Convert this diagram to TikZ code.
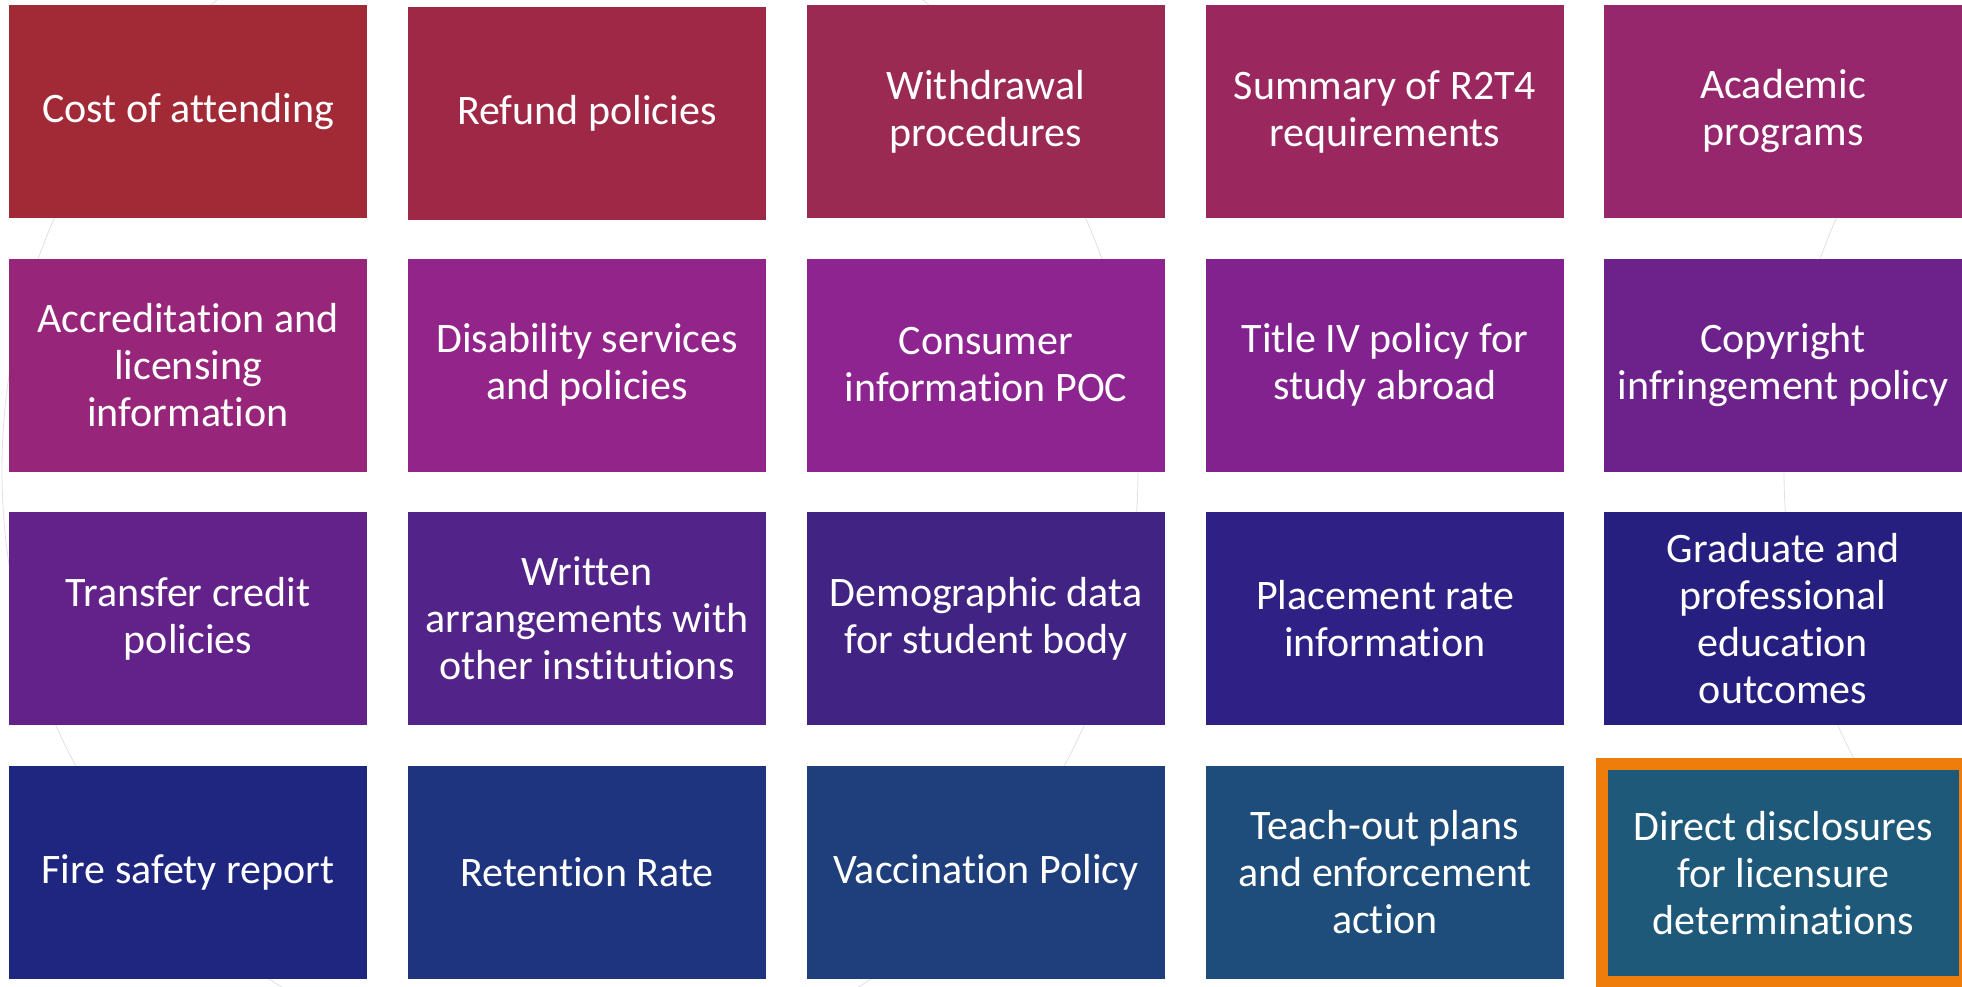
\documentclass[tikz,border=0pt]{standalone}
\usepackage{fontspec}
\setmainfont[Ligatures=NoCommon]{Carlito}
\definecolor{cA1}{HTML}{A22A36}
\definecolor{cA2}{HTML}{9E2846}
\definecolor{cA3}{HTML}{9B2A52}
\definecolor{cA4}{HTML}{9A285F}
\definecolor{cA5}{HTML}{96276C}
\definecolor{cB1}{HTML}{97267A}
\definecolor{cB2}{HTML}{93258A}
\definecolor{cB3}{HTML}{8E2490}
\definecolor{cB4}{HTML}{81228F}
\definecolor{cB5}{HTML}{6C218B}
\definecolor{cC1}{HTML}{62228A}
\definecolor{cC2}{HTML}{522388}
\definecolor{cC3}{HTML}{412383}
\definecolor{cC4}{HTML}{2F2085}
\definecolor{cC5}{HTML}{261F80}
\definecolor{cD1}{HTML}{1F2680}
\definecolor{cD2}{HTML}{1E347F}
\definecolor{cD3}{HTML}{1E3F7C}
\definecolor{cD4}{HTML}{1E4C7B}
\definecolor{cD5}{HTML}{1E597A}
\definecolor{hilite}{HTML}{EF7D0B}
\tikzset{
  tile/.style={rectangle, inner sep=0pt, minimum width=358pt, minimum height=213pt,
    text=white, align=center, font=\fontsize{42}{47}\selectfont},
  ring/.style={draw=black!12, line width=0.8pt}
}
\begin{document}
\begin{tikzpicture}[x=1pt,y=-1pt]
\useasboundingbox (0,0) rectangle (1962,986);
% faint background rings
\draw[ring] (570,470) ellipse [x radius=568, y radius=600];
\draw[ring] (2352,470) ellipse [x radius=568, y radius=600];
% row 1
\node[tile, fill=cA1] (a1) at (188,111.5) {Cost of attending};
\node[tile, fill=cA2] (a2) at (587,113.5) {Refund policies};
\node[tile, fill=cA3] (a3) at (986,111.5) {Withdrawal\\procedures};
\node[tile, fill=cA4] (a4) at (1385,111.5) {Summary of R2T4\\requirements};
\node[tile, fill=cA5] (a5) at (1783,111.5) {Academic\\programs};
% row 2
\node[tile, fill=cB1] (b1) at (188,365) {Accreditation and\\licensing\\information};
\node[tile, fill=cB2] (b2) at (587,365) {Disability services\\and policies};
\node[tile, fill=cB3] (b3) at (986,365) {Consumer\\information POC};
\node[tile, fill=cB4] (b4) at (1385,365) {Title IV policy for\\study abroad};
\node[tile, fill=cB5] (b5) at (1783,365) {Copyright\\infringement policy};
% row 3
\node[tile, fill=cC1] (c1) at (188,618.5) {Transfer credit\\policies};
\node[tile, fill=cC2] (c2) at (587,618.5) {Written\\arrangements with\\other institutions};
\node[tile, fill=cC3] (c3) at (986,618.5) {Demographic data\\for student body};
\node[tile, fill=cC4] (c4) at (1385,618.5) {Placement rate\\information};
\node[tile, fill=cC5] (c5) at (1783,618.5) {Graduate and\\professional\\education\\outcomes};
% row 4
\node[tile, fill=cD1] (d1) at (188,872.5) {Fire safety report};
\node[tile, fill=cD2] (d2) at (587,872.5) {Retention Rate};
\node[tile, fill=cD3] (d3) at (986,872.5) {Vaccination Policy};
\node[tile, fill=cD4] (d4) at (1385,872.5) {Teach-out plans\\and enforcement\\action};
\node[tile, fill=cD5, draw=hilite, line width=12pt, minimum width=363pt, minimum height=218pt] (d5) at (1783.5,873) {Direct disclosures\\for licensure\\determinations};
\end{tikzpicture}
\end{document}
